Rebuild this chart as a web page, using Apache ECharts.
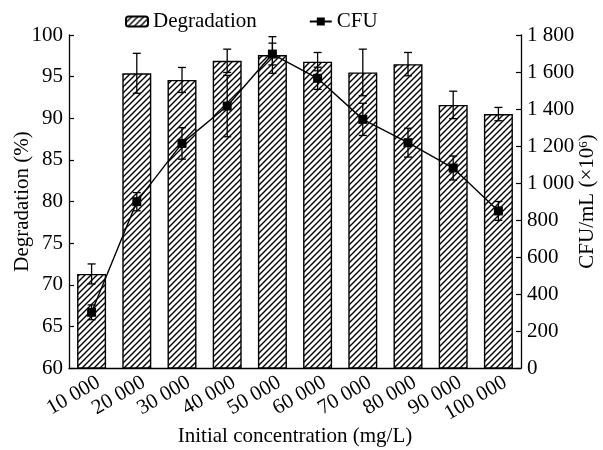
<!DOCTYPE html>
<html><head><meta charset="utf-8">
<script src="https://cdn.jsdelivr.net/npm/echarts@6/dist/echarts.min.js"></script>
<style>html,body{margin:0;padding:0;background:#fff}#c{width:603px;height:450px}</style>
</head><body><div id="c"></div>
<script>
const categories = ['10 000','20 000','30 000','40 000','50 000','60 000','70 000','80 000','90 000','100 000'];
const degradation = [71.3, 95.4, 94.6, 96.9, 97.6, 96.8, 95.5, 96.5, 91.6, 90.5];
const degradationErr = [1.2, 2.4, 1.5, 1.4, 2.2, 1.1, 2.8, 1.4, 1.65, 0.8];
const cfu = [301, 899, 1214, 1416, 1697, 1566, 1344, 1218, 1081, 849];
const cfuErr = [40, 49, 85, 166, 59, 60, 87, 78, 65, 51];
const leftTicks = {min: 60, max: 100, interval: 5};
const rightTicks = {min: 0, max: 1800, interval: 200};

const FONT = '"Liberation Serif", "Times New Roman", serif';

function makeHatch() {
  const s = 6;
  const c = document.createElement('canvas');
  c.width = s; c.height = s;
  const g = c.getContext('2d');
  g.fillStyle = '#fff'; g.fillRect(0, 0, s, s);
  g.strokeStyle = '#000'; g.lineWidth = 1.4;
  g.beginPath();
  g.moveTo(0, s); g.lineTo(s, 0);
  g.moveTo(-1, 1); g.lineTo(1, -1);
  g.moveTo(s - 1, s + 1); g.lineTo(s + 1, s - 1);
  g.stroke();
  return c;
}
const hatch = {image: makeHatch(), repeat: 'repeat'};

function errRender(params, api) {
  const x = api.value(0), lo = api.value(1), hi = api.value(2);
  const p1 = api.coord([x, lo]), p2 = api.coord([x, hi]);
  const w = 4;
  const st = {stroke: '#000', lineWidth: 1.3};
  return {type: 'group', children: [
    {type: 'line', shape: {x1: p1[0], y1: p1[1], x2: p2[0], y2: p2[1]}, style: st},
    {type: 'line', shape: {x1: p1[0] - w, y1: p1[1], x2: p1[0] + w, y2: p1[1]}, style: st},
    {type: 'line', shape: {x1: p2[0] - w, y1: p2[1], x2: p2[0] + w, y2: p2[1]}, style: st}
  ]};
}

const degErrData = degradation.map((v, i) => [i, v - degradationErr[i], v + degradationErr[i]]);
const cfuErrData = cfu.map((v, i) => [i, v - cfuErr[i], v + cfuErr[i]]);

const chart = echarts.init(document.getElementById('c'), null, {renderer: 'canvas'});
const axisCommon = {
  axisLine: {show: true, lineStyle: {color: '#000', width: 1.3}},
  axisTick: {show: true, inside: true, length: 5, lineStyle: {color: '#000', width: 1.2}},
  axisLabel: {color: '#000', fontSize: 21, fontFamily: FONT},
  splitLine: {show: false},
  nameMoveOverlap: false,
  nameTextStyle: {color: '#000', fontSize: 21, fontFamily: FONT}
};
chart.setOption({
  animation: false,
  textStyle: {fontFamily: FONT},
  grid: {left: 69, right: 82, top: 35, bottom: 82, containLabel: false, outerBoundsMode: 'none'},
  legend: {
    data: ['Degradation', 'CFU'],
    left: 120, top: 6,
    itemWidth: 22, itemHeight: 10, itemGap: 52,
    textStyle: {color: '#000', fontSize: 21, fontFamily: FONT}
  },
  xAxis: Object.assign({}, axisCommon, {
    type: 'category', data: categories,
    axisTick: {show: true, inside: true, length: 5, alignWithLabel: true, lineStyle: {color: '#000', width: 1.2}},
    axisLabel: {color: '#000', fontSize: 21, fontFamily: FONT, rotate: 30, interval: 0, margin: 17, padding: [0, -8, 0, 0]},
    name: 'Initial concentration (mg/L)', nameLocation: 'middle', nameGap: 58
  }),
  yAxis: [
    Object.assign({}, axisCommon, {
      type: 'value', min: leftTicks.min, max: leftTicks.max, interval: leftTicks.interval,
      name: 'Degradation (%)', nameLocation: 'middle', nameGap: 36,
      axisLabel: {color: '#000', fontSize: 21, fontFamily: FONT, margin: 6}
    }),
    Object.assign({}, axisCommon, {
      type: 'value', position: 'right', min: rightTicks.min, max: rightTicks.max, interval: rightTicks.interval,
      axisLabel: {color: '#000', fontSize: 21, fontFamily: FONT, margin: 6,
        formatter: v => String(v).replace(/\B(?=(\d{3})+(?!\d))/g, ' ')},
      name: '{a|CFU/mL (×10}{s|6}{a|)}', nameLocation: 'middle', nameGap: 56,
      nameTextStyle: {color: '#000', fontFamily: FONT, rich: {
        a: {fontSize: 21, fontFamily: FONT, color: '#000'},
        s: {fontSize: 13, fontFamily: FONT, color: '#000', verticalAlign: 'top', padding: [0, 0, 8, 0]}
      }}
    })
  ],
  series: [
    {
      name: 'Degradation', type: 'bar', data: degradation, yAxisIndex: 0,
      barWidth: 29,
      itemStyle: {color: hatch, borderColor: '#000', borderWidth: 1.4},
      z: 2
    },
    {
      name: 'degErr', type: 'custom', yAxisIndex: 0, data: degErrData,
      renderItem: errRender, encode: {x: 0, y: [1, 2]}, z: 3
    },
    {
      name: 'CFU', type: 'line', data: cfu, yAxisIndex: 1,
      symbol: 'rect', symbolSize: 9,
      lineStyle: {color: '#000', width: 1.4},
      itemStyle: {color: '#000'},
      z: 4
    },
    {
      name: 'cfuErr', type: 'custom', yAxisIndex: 1, data: cfuErrData,
      renderItem: errRender, encode: {x: 0, y: [1, 2]}, z: 5
    }
  ]
});
</script>
</body></html>
